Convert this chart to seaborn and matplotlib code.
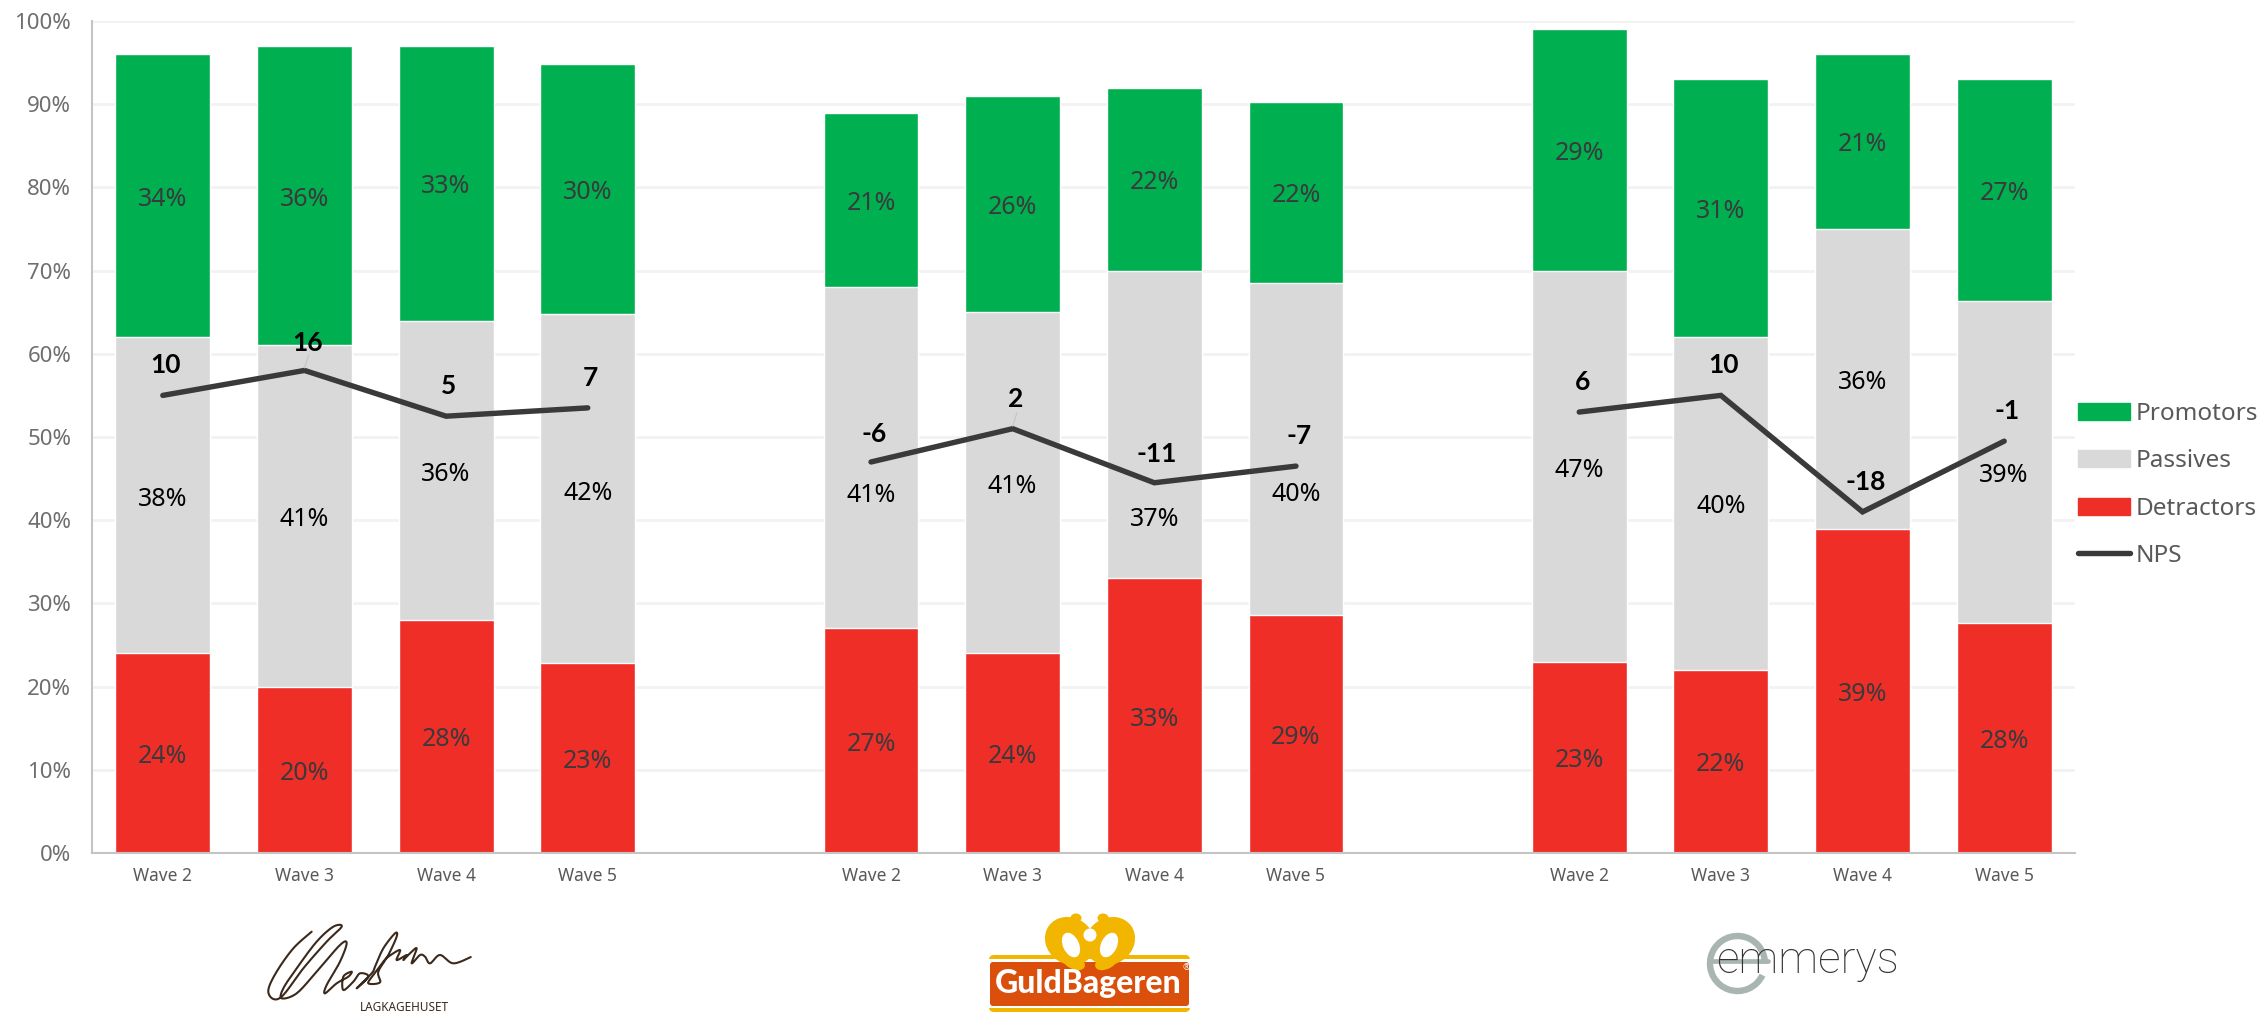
import numpy as np
import pandas as pd
import matplotlib
matplotlib.use("Agg")
import matplotlib.pyplot as plt
import seaborn as sns
from matplotlib.lines import Line2D
from matplotlib.patches import Patch, Rectangle, FancyBboxPatch, Ellipse, Arc

brands = ["Ole Steen"] * 4 + ["GuldBageren"] * 4 + ["Emmerys"] * 4
waves = ["Wave 2", "Wave 3", "Wave 4", "Wave 5"] * 3

detractors = [24, 20, 28, 22.8, 27, 24, 33, 28.6, 23, 22, 39, 27.6]
passives = [38, 41, 36, 42, 41, 41, 37, 39.9, 47, 40, 36, 38.7]
promotors = [34, 36, 33, 30, 21, 26, 22, 21.8, 29, 31, 21, 26.7]
nps_labels = [10, 16, 5, 7, -6, 2, -11, -7, 6, 10, -18, -1]
nps_line = [55, 58, 52.5, 53.5, 47, 51, 44.5, 46.5, 53, 55, 41, 49.5]

# where the labels sit in the chart, moved by hand in the original
passive_label_y = [42.9, 40.5, 45.9, 43.6, 43.4, 44.4, 40.5, 43.5, 46.4, 42, 57, 45.8]
nps_label_y = [59, 61.7, 56.5, 57.5, 50.8, 55, 48.4, 50.5, 57, 59, 45, 53.5]

y_ticks = list(range(0, 101, 10))

GREEN = "#00B050"
GREY = "#D9D9D9"
RED = "#EF2E28"
DARK = "#3A3A3C"
W, H = 2262, 1013
TEXT_SHIFT = 0.4  # va=center sits a little high with this font

sns.set_style("white")
plt.rcParams["font.family"] = ["Noto Sans", "DejaVu Sans"]

# one empty slot between the brands
slots = []
for i, (b, w) in enumerate(zip(brands, waves)):
    if i in (4, 8):
        slots.append("gap" + str(i))
    slots.append(b + " " + w)

df = pd.DataFrame({"brand": brands, "wave": waves, "detractors": detractors,
                   "passives": passives, "promotors": promotors, "nps": nps_line})
df["slot"] = df["brand"] + " " + df["wave"]
df["pos"] = [slots.index(s) for s in df["slot"]]
df["mid"] = df["detractors"] + df["passives"]
df["top"] = df["mid"] + df["promotors"]

fig = plt.figure(figsize=(W / 100, H / 100), dpi=100)
ax = fig.add_axes([92 / W, 1 - 853 / H, (2075 - 92) / W, (853 - 21) / H])

ax.set_axisbelow(True)
ax.grid(axis="y", color="#F2F2F2", lw=2)

# stacked bars: tallest first, the next ones painted over it
sns.barplot(data=df, x="slot", y="top", order=slots, color=GREEN, saturation=1, width=0.67, ax=ax)
sns.barplot(data=df, x="slot", y="mid", order=slots, color=GREY, saturation=1, width=0.67, ax=ax)
sns.barplot(data=df, x="slot", y="detractors", order=slots, color=RED, saturation=1, width=0.67, ax=ax)

sns.lineplot(data=df, x="pos", y="nps", units="brand", estimator=None, color=DARK, lw=3.9,
             solid_capstyle="round", solid_joinstyle="miter", ax=ax, legend=False)

for i, row in df.iterrows():
    ax.text(row["pos"], row["detractors"] / 2 - TEXT_SHIFT, f"{row['detractors']:.0f}%", ha="center", va="center",
            fontsize=18, color="#3A3A3C")
    ax.text(row["pos"], row["mid"] + row["promotors"] / 2 - TEXT_SHIFT, f"{row['promotors']:.0f}%", ha="center",
            va="center", fontsize=18, color="#3A3A3C")
    ax.text(row["pos"], passive_label_y[i] - TEXT_SHIFT, f"{row['passives']:.0f}%", ha="center", va="center",
            fontsize=18, color="black")
    ax.text(row["pos"] + 0.02, nps_label_y[i] - TEXT_SHIFT, str(nps_labels[i]), ha="center", va="center",
            fontsize=19, family="Lato", fontweight="bold", color="black")

# thin leader lines on the two moved labels
for i in (1, 5):
    ax.plot([df["pos"][i], df["pos"][i] + 0.03], [nps_line[i] + 0.3, nps_line[i] + 1.9], color="#C4C4C4", lw=0.8)

ax.set_xlim(-0.5, len(slots) - 0.5)
ax.set_ylim(0, 100)
ax.set_yticks(y_ticks)
ax.set_yticklabels([f"{v}%" for v in y_ticks], fontsize=16, color="#6E6E6E")
ax.set_xticks(df["pos"])
ax.set_xticklabels(df["wave"], fontsize=12.5, color="#595959")
ax.tick_params(axis="x", length=0, pad=10)
ax.tick_params(axis="y", length=0, pad=15)
ax.set_xlabel("")
ax.set_ylabel("")
for side in ("top", "right"):
    ax.spines[side].set_visible(False)
for side in ("left", "bottom"):
    ax.spines[side].set_color("#C4C4C4")
    ax.spines[side].set_linewidth(1.5)

handles = [Patch(color=GREEN, label="Promotors"), Patch(color=GREY, label="Passives"),
           Patch(color=RED, label="Detractors"), Line2D([], [], color=DARK, lw=3.9, solid_capstyle="round", label="NPS")]
fig.legend(handles=handles, loc="center left", bbox_to_anchor=(2078 / W, 1 - 485 / H), frameon=False,
           fontsize=17.5, labelcolor="#595959", handlelength=2.15, handletextpad=0.22, labelspacing=0.95,
           borderpad=0, borderaxespad=0)

# logos under the groups, drawn in pixel coordinates of the figure
logo = fig.add_axes([0, 0, 1, 1], zorder=-1)
logo.set_xlim(0, W)
logo.set_ylim(H, 0)
logo.axis("off")


def spline(pts, n=12):
    pts = np.array(pts, dtype=float)
    p = np.vstack([pts[0], pts, pts[-1]])
    t = np.linspace(0, 1, n, endpoint=False)[:, None]
    out = []
    for k in range(len(p) - 3):
        a, b, c, d = p[k], p[k + 1], p[k + 2], p[k + 3]
        out.append(0.5 * (2 * b + (c - a) * t + (2 * a - 5 * b + 4 * c - d) * t ** 2 + (3 * b - a - 3 * c + d) * t ** 3))
    return np.vstack(out)


# Ole Steen signature
sig = [(215, 80), (160, 130), (110, 200), (85, 255), (100, 282), (130, 270), (190, 190), (260, 110), (305, 65),
       (280, 65), (230, 110), (170, 190), (130, 250), (125, 280), (170, 265), (230, 200), (300, 120), (320, 115),
       (300, 170), (260, 240), (255, 265), (290, 235), (325, 215), (335, 200), (310, 215), (310, 255), (340, 230),
       (360, 205), (385, 215), (350, 250), (395, 205), (405, 185), (430, 130), (465, 85), (470, 95), (445, 150),
       (415, 200), (420, 232), (385, 235), (400, 210), (430, 170), (445, 155), (480, 135), (470, 165), (500, 150),
       (490, 165), (510, 145), (530, 130), (515, 175), (540, 150), (555, 155), (570, 175), (600, 150), (640, 175),
       (695, 155)]
curve = spline(sig)
logo.plot(240 + curve[:, 0] / 3, 905 + curve[:, 1] / 3, color="#3B2A1C", lw=1.5)
logo.text(404, 1007, "LAGKAGEHUSET", ha="center", va="center", fontsize=8.5, color="#3B2A1C")

# GuldBageren
YEL = "#F2B600"
logo.add_patch(FancyBboxPatch((989, 955), 201, 57, boxstyle="round,pad=0,rounding_size=5", fc=YEL, ec="none"))
logo.add_patch(Rectangle((987, 959), 205, 49, fc="white", ec="none"))
logo.add_patch(FancyBboxPatch((990, 962), 199, 44, boxstyle="round,pad=0,rounding_size=3", fc="#D94F0B", ec="none"))
logo.add_patch(Ellipse((1070, 941), 52, 46, angle=35, fc=YEL, ec="none"))
logo.add_patch(Ellipse((1110, 941), 52, 46, angle=-35, fc=YEL, ec="none"))
logo.add_patch(Ellipse((1073, 961), 26, 15, angle=30, fc=YEL, ec="none"))
logo.add_patch(Ellipse((1107, 961), 26, 15, angle=-30, fc=YEL, ec="none"))
logo.add_patch(Ellipse((1076, 918), 11, 9, fc=YEL, ec="none"))
logo.add_patch(Ellipse((1103, 918), 11, 9, fc=YEL, ec="none"))
logo.add_patch(Ellipse((1071, 945), 16, 26, angle=-25, fc="white", ec="none"))
logo.add_patch(Ellipse((1109, 945), 16, 26, angle=25, fc="white", ec="none"))
logo.add_patch(Ellipse((1090, 935), 13, 13, fc="white", ec="none"))
logo.text(1088, 983, "GuldBageren", ha="center", va="center", fontsize=23, family="Lato", fontweight="black",
          color="white")
logo.text(1186, 968, "®", ha="center", va="center", fontsize=6.5, color="white")

# emmerys
logo.add_patch(Arc((1737.5, 963.5), 55, 55, theta1=25, theta2=360, color="#A9B5B0", lw=4.6))
logo.plot([1709, 1768], [961, 961], color="#A9B5B0", lw=3.4)
logo.text(1807, 961, "emmerys", ha="center", va="center", fontsize=32, family="Roboto", fontweight="light",
          color="#333333")

fig.savefig("out.png", dpi=100)
